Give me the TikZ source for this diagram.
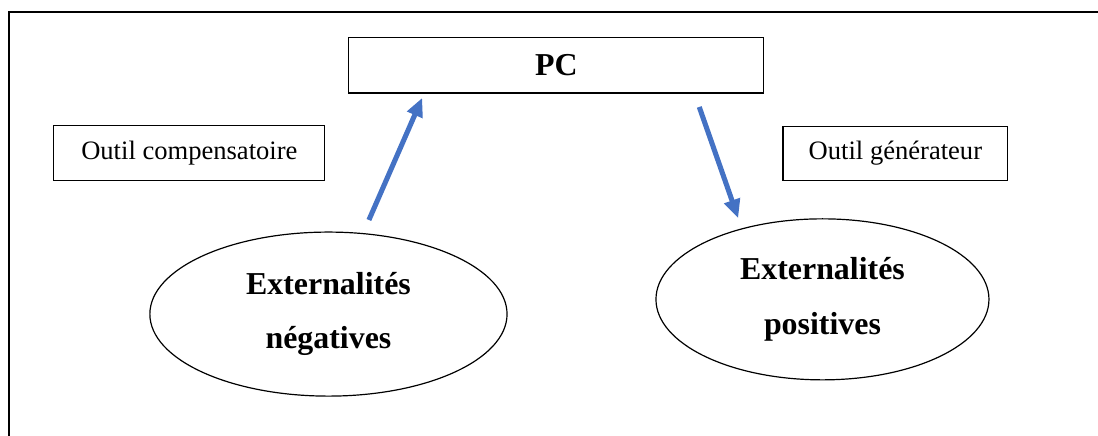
\documentclass[tikz,border=0pt]{standalone}
\usepackage{fontspec}
\setmainfont{Liberation Serif}
\usepackage{xcolor}
\definecolor{flowblue}{HTML}{4472C4}
\usepackage{tikz}
\usetikzlibrary{arrows.meta, shapes.geometric, positioning, calc}

\tikzset{
  toolbox/.style={draw, line width=0.8pt, inner sep=0pt, font=\fontsize{20}{24}\selectfont},
  extern/.style={draw, ellipse, line width=0.9pt, inner sep=0pt, align=center,
    font=\bfseries\fontsize{24}{41}\selectfont},
  flow/.style={flowblue, line width=3.8pt, -{Triangle[length=14pt, width=12pt]}}
}

\begin{document}
\begin{tikzpicture}
  \useasboundingbox (0,0) rectangle (29.05,11.51);
  % cadre
  \draw[line width=1.7pt] (0.24,-0.2) -- (0.24,11.19) -- (29.3,11.19);

  \node[draw, line width=0.8pt, minimum width=10.98cm, minimum height=1.48cm,
    font=\bfseries\fontsize{24}{28}\selectfont] (pc) at (14.72,9.79) {PC};
  \node[toolbox, minimum width=7.17cm, minimum height=1.46cm] (comp) at (5.01,7.47) {Outil compensatoire};
  \node[toolbox, minimum width=5.95cm, minimum height=1.43cm] (gen) at (23.69,7.46) {Outil générateur};

  \node[extern, minimum width=9.45cm, minimum height=4.34cm] (neg) at (8.69,3.20) {Externalités\\négatives};
  \node[extern, minimum width=8.81cm, minimum height=4.26cm] (pos) at (21.76,3.59) {Externalités\\positives};

  \coordinate (negOut) at (9.76,5.69);
  \coordinate (pcIn)   at (11.17,8.92);
  \coordinate (pcOut)  at (18.50,8.68);
  \coordinate (posIn)  at (19.53,5.74);
  \draw[flow] (negOut) -- (pcIn);
  \draw[flow] (pcOut) -- (posIn);
\end{tikzpicture}
\end{document}
